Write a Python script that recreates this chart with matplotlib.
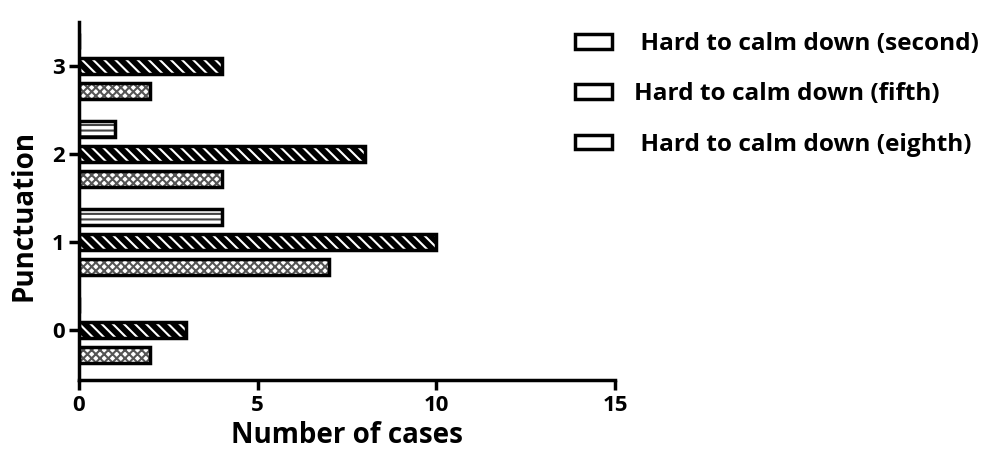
import numpy as np
import matplotlib.pyplot as plt
from matplotlib.patches import Patch

# data
categories = [0, 1, 2, 3]
series_names = [" Hard to calm down (second)",
                "Hard to calm down (fifth)",
                " Hard to calm down (eighth)"]
second = [2, 7, 4, 2]    # bottom bar of each group (cross hatch)
fifth = [3, 10, 8, 4]    # middle bar (wavy)
eighth = [0, 4, 1, 0]    # top bar (horizontal lines)

plt.rcParams['font.family'] = ['Open Sans', 'DejaVu Sans']
plt.rcParams['hatch.linewidth'] = 1.5

fig = plt.figure(figsize=(9.84, 4.51), dpi=100)
ax = fig.add_axes([0.0803, 0.157, 0.5447, 0.794])

y = np.array(categories, dtype=float)
step = 0.284
h = 0.19

# bottom: cross hatch, middle: wavy-ish dark, top: horizontal lines
styles = [
    (second, -step, 'white', '#555555', 'xxxx'),
    (fifth, 0.0, 'black', 'white', '\\\\\\'),
    (eighth, step, 'white', '#444444', '---'),
]
for vals, off, fc, hc, hatch in styles:
    ax.barh(y + off, vals, height=h, color=fc, edgecolor=hc,
            hatch=hatch, linewidth=0)
    ax.barh(y + off, vals, height=h, fill=False, edgecolor='black',
            linewidth=2.5)

ax.set_xlim(0, 15)
ax.set_ylim(-0.57, 3.5)
ax.set_xticks([0, 5, 10, 15])
ax.set_yticks(categories)
ax.spines['top'].set_visible(False)
ax.spines['right'].set_visible(False)
ax.spines['left'].set_linewidth(2.5)
ax.spines['bottom'].set_linewidth(2.5)
ax.tick_params(width=2.5, length=7, labelsize=16)
for lab in ax.get_xticklabels() + ax.get_yticklabels():
    lab.set_fontweight('bold')

ax.set_xlabel("Number of cases", fontsize=20, fontweight='bold', labelpad=4)
ax.set_ylabel("Punctuation", fontsize=20, fontweight='bold', labelpad=6)
ax.yaxis.set_label_coords(-0.075, 0.46)

handles = [Patch(facecolor='white', edgecolor='black', linewidth=2.5)
           for _ in series_names]
leg = fig.legend(handles, series_names, loc='upper left',
                 bbox_to_anchor=(0.562, 0.978), frameon=False,
                 prop={'weight': 'bold', 'size': 17.6},
                 handlelength=1.5, handleheight=0.55,
                 labelspacing=1.08, handletextpad=0.9)

fig.savefig("out.png", dpi=100)
